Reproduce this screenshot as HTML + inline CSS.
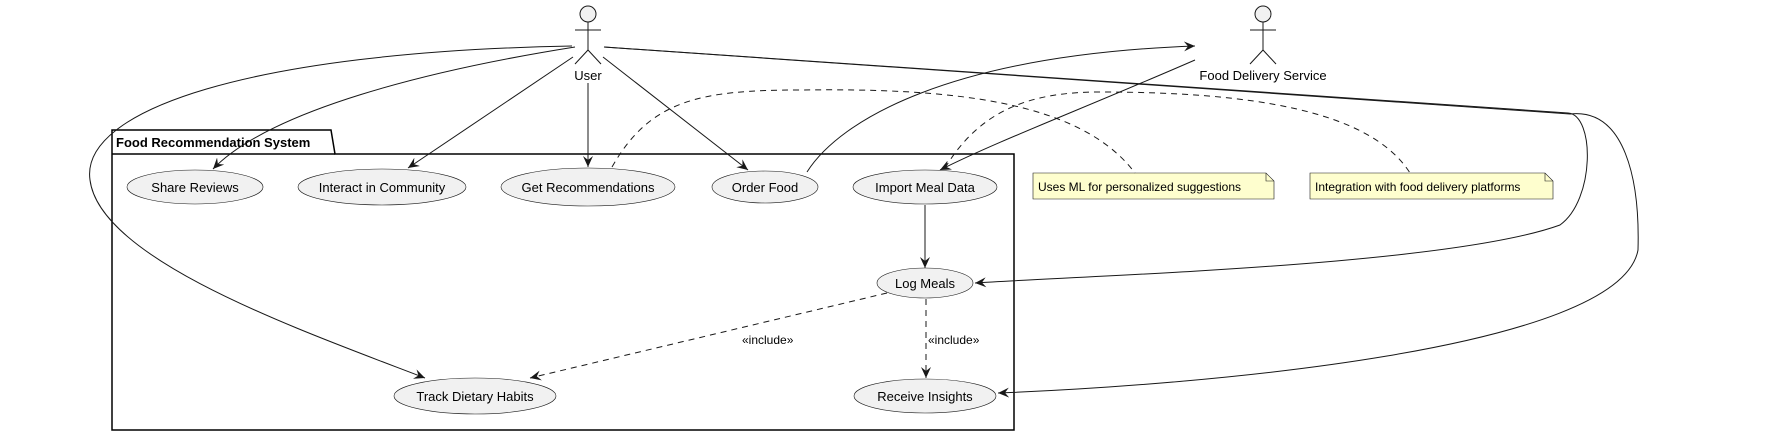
<!DOCTYPE html>
<html><head><meta charset="utf-8"><style>
html,body{margin:0;padding:0;background:#fff;}
svg{display:block;font-family:"Liberation Sans",sans-serif;}
</style></head><body>
<svg width="1786" height="435" viewBox="0 0 1786 435" xmlns="http://www.w3.org/2000/svg">
<defs>
<marker id="a" viewBox="0 0 12 10" refX="11" refY="5" markerWidth="12" markerHeight="10" markerUnits="userSpaceOnUse" orient="auto">
<path d="M0,0 L11,5 L0,10 L4,5 Z" fill="#181818"/>
</marker>
</defs>
<path d="M112,154 L112,130 L331,130 L335,154 L1014,154 L1014,430 L112,430 Z" fill="none" stroke="#000" stroke-width="1.5"/>
<line x1="112" y1="154" x2="335" y2="154" stroke="#000" stroke-width="1.5"/>
<text x="116" y="147" font-size="13" font-weight="bold">Food Recommendation System</text>

<g stroke="#181818" fill="none" stroke-width="1">
<ellipse cx="588" cy="14" rx="8" ry="8" fill="#f1f1f1"/>
<line x1="588" y1="22" x2="588" y2="50"/><line x1="575" y1="30" x2="601" y2="30"/>
<line x1="588" y1="50" x2="575" y2="64"/><line x1="588" y1="50" x2="601" y2="64"/>
<ellipse cx="1263" cy="14" rx="8" ry="8" fill="#f1f1f1"/>
<line x1="1263" y1="22" x2="1263" y2="50"/><line x1="1250" y1="30" x2="1276" y2="30"/>
<line x1="1263" y1="50" x2="1250" y2="64"/><line x1="1263" y1="50" x2="1276" y2="64"/>
</g>
<text x="588" y="80" font-size="13" text-anchor="middle">User</text>
<text x="1263" y="80" font-size="13" text-anchor="middle">Food Delivery Service</text>

<g fill="#f1f1f1" stroke="#181818" stroke-width="0.6">
<ellipse cx="195" cy="187" rx="68" ry="17"/>
<ellipse cx="382" cy="187" rx="84" ry="18"/>
<ellipse cx="588" cy="187" rx="87" ry="19"/>
<ellipse cx="765" cy="187" rx="53" ry="16"/>
<ellipse cx="925" cy="187" rx="72" ry="17"/>
<ellipse cx="925" cy="283" rx="48" ry="15"/>
<ellipse cx="925" cy="396" rx="71" ry="17"/>
<ellipse cx="475" cy="396" rx="81" ry="18"/>
</g>
<g font-size="13" text-anchor="middle">
<text x="195" y="192">Share Reviews</text>
<text x="382" y="192">Interact in Community</text>
<text x="588" y="192">Get Recommendations</text>
<text x="765" y="192">Order Food</text>
<text x="925" y="192">Import Meal Data</text>
<text x="925" y="288">Log Meals</text>
<text x="925" y="401">Receive Insights</text>
<text x="475" y="401">Track Dietary Habits</text>
</g>

<g stroke="#181818" stroke-width="0.6" fill="#fefece">
<path d="M1033,173 L1266,173 L1274,181 L1274,199 L1033,199 Z"/>
<path d="M1310,173 L1545,173 L1553,181 L1553,199 L1310,199 Z"/>
<path d="M1266,173 L1266,181 L1274,181" fill="none"/>
<path d="M1545,173 L1545,181 L1553,181" fill="none"/>
</g>
<text x="1038" y="191" font-size="12">Uses ML for personalized suggestions</text>
<text x="1315" y="191" font-size="12">Integration with food delivery platforms</text>

<g fill="none" stroke="#181818" stroke-width="1">
<path d="M575,47 C430,70 270,110 213,169" marker-end="url(#a)"/>
<path d="M573,57 L408,168" marker-end="url(#a)"/>
<path d="M588,83 L588,167" marker-end="url(#a)"/>
<path d="M603,57 L748,170" marker-end="url(#a)"/>
<path d="M572,46 C250,52 80,110 90,180 C100,260 300,330 425,378" marker-end="url(#a)"/>
<path d="M604,47 L1568,113 C1595,115 1595,200 1560,225 C1450,265 1100,275 975,283" marker-end="url(#a)"/>
<path d="M604,47 L1570,114 C1625,108 1640,180 1638,250 C1620,350 1200,385 998,393" marker-end="url(#a)"/>
<path d="M807,172 C840,120 950,55 1195,46" marker-end="url(#a)"/>
<path d="M1195,60 C1080,110 1000,140 940,170" marker-end="url(#a)"/>
<path d="M925,205 L925,268" marker-end="url(#a)"/>
</g>
<g fill="none" stroke="#181818" stroke-width="1" stroke-dasharray="6,5">
<path d="M612,167 C650,100 700,90 800,90 C950,88 1080,100 1135,173"/>
<path d="M945,168 C980,110 1030,92 1100,92 C1250,92 1370,110 1410,173"/>
<path d="M887,293 L530,378" marker-end="url(#a)"/>
<path d="M926,299 L926,378" marker-end="url(#a)"/>
</g>
<text x="742" y="344" font-size="12">«include»</text>
<text x="928" y="344" font-size="12">«include»</text>
</svg>
</body></html>
